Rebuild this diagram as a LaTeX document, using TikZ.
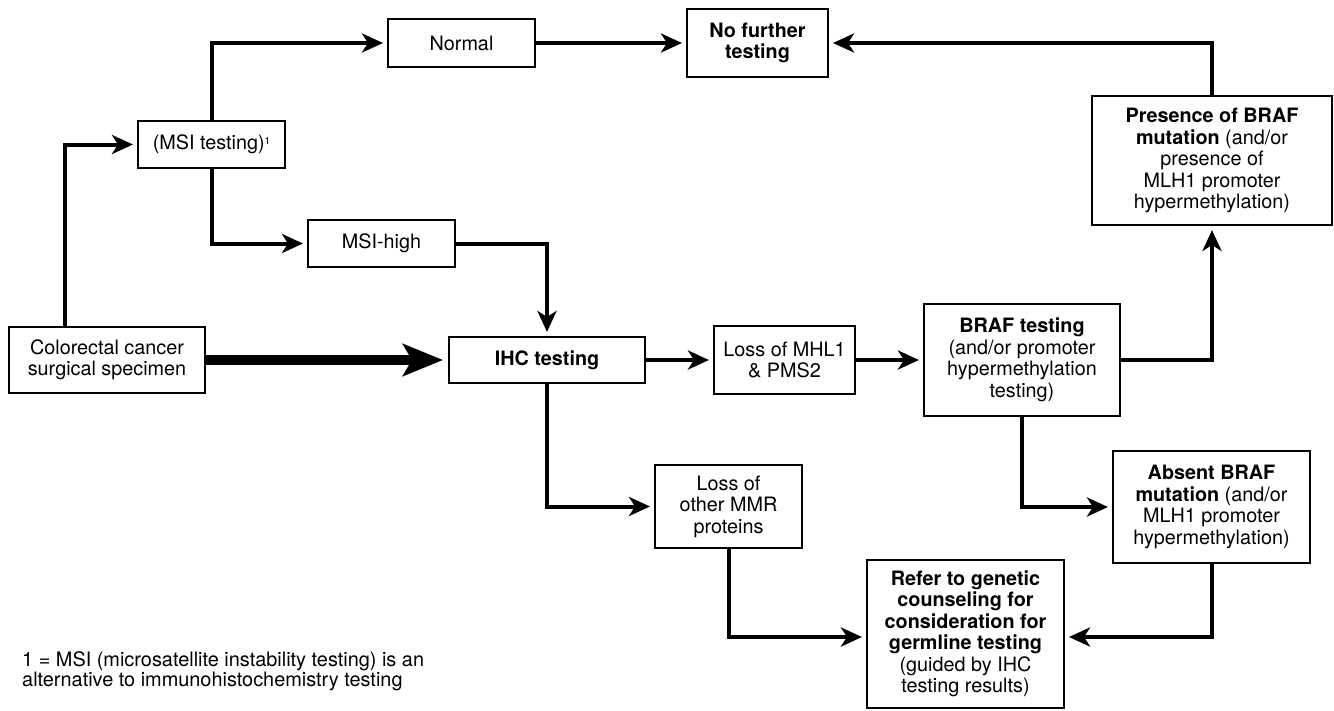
\documentclass[tikz,border=0pt]{standalone}
\usepackage{fontspec}
\setmainfont{TeX Gyre Heros}
\usetikzlibrary{arrows.meta}
\begin{document}
\begin{tikzpicture}[x=1pt,y=-1pt,
  box/.style={draw, line width=2pt, align=center, inner sep=0pt,
    font=\fontsize{19.8}{21.5}\selectfont},
  arr/.style={line width=4pt, -{Stealth[length=21pt,width=19pt,inset=6pt]}, shorten >=4pt},
  bigarr/.style={line width=10pt, -{Stealth[length=40pt,width=32pt,inset=9pt]}, shorten >=5pt}]
\useasboundingbox[fill=white] (0,0) rectangle (1334,710);

\node[box, minimum width=196pt, minimum height=66pt] (col) at (107,360) {Colorectal cancer\\surgical specimen};
\node[box, minimum width=147pt, minimum height=47pt] (msi) at (211.5,144.5) {(MSI testing)\raisebox{0.55ex}{\fontsize{10}{10}\selectfont 1}};
\node[box, minimum width=147pt, minimum height=47pt] (msih) at (381.5,243.5) {MSI-high};
\node[box, minimum width=147pt, minimum height=48pt] (normal) at (461.5,43) {Normal};
\node[box, minimum width=141pt, minimum height=68pt] (nft) at (757.5,43) {\textbf{No further}\\\textbf{testing}};
\node[box, minimum width=196pt, minimum height=46pt] (ihc) at (547,360) {\textbf{IHC testing}};
\node[box, minimum width=141pt, minimum height=68pt] (lmhl) at (784.5,360) {Loss of MHL1\\\& PMS2};
\node[box, minimum width=147pt, minimum height=83pt] (lother) at (728.5,506.5) {Loss of\\other MMR\\proteins};
\node[box, minimum width=240pt, minimum height=129pt] (pres) at (1212,160.5) {\textbf{Presence of BRAF}\\\textbf{mutation} (and/or\\presence of\\MLH1 promoter\\hypermethylation)};
\node[box, minimum width=196pt, minimum height=112pt] (braf) at (1022,360) {\textbf{BRAF testing}\\(and/or promoter\\hypermethylation\\testing)};
\node[box, minimum width=197pt, minimum height=112pt] (absent) at (1211.5,507) {\textbf{Absent BRAF}\\\textbf{mutation} (and/or\\MLH1 promoter\\hypermethylation)};
\node[box, minimum width=197pt, minimum height=148pt] (refer) at (965.5,634) {\textbf{Refer to genetic}\\\textbf{counseling for}\\\textbf{consideration for}\\\textbf{germline testing}\\(guided by IHC\\testing results)};

\node[anchor=north west, inner sep=0pt, align=left, font=\fontsize{19.9}{20.5}\selectfont] (foot) at (22,651)
  {1 = MSI (microsatellite instability testing) is an\\alternative to immunohistochemistry testing};

\draw[arr] ([xshift=-42pt]col.north) |- (msi.west);
\draw[arr] (msi.north) |- (normal.west);
\draw[arr] (msi.south) |- (msih.west);
\draw[arr] (msih.east) -| (ihc.north);
\draw[arr] (normal.east) -- (nft.west);
\draw[arr] (pres.north) |- (nft.east);
\draw[arr] (braf.east) -| (pres.south);
\draw[arr] (ihc.east) -- (lmhl.west);
\draw[arr] (lmhl.east) -- (braf.west);
\draw[arr] (ihc.south) |- (lother.west);
\draw[arr] (braf.south) |- (absent.west);
\draw[arr] (absent.south) |- ([yshift=-3pt]refer.east);
\draw[arr] (lother.south) |- ([yshift=-3pt]refer.west);
\draw[bigarr] (col.east) -- (ihc.west);
\end{tikzpicture}
\end{document}
